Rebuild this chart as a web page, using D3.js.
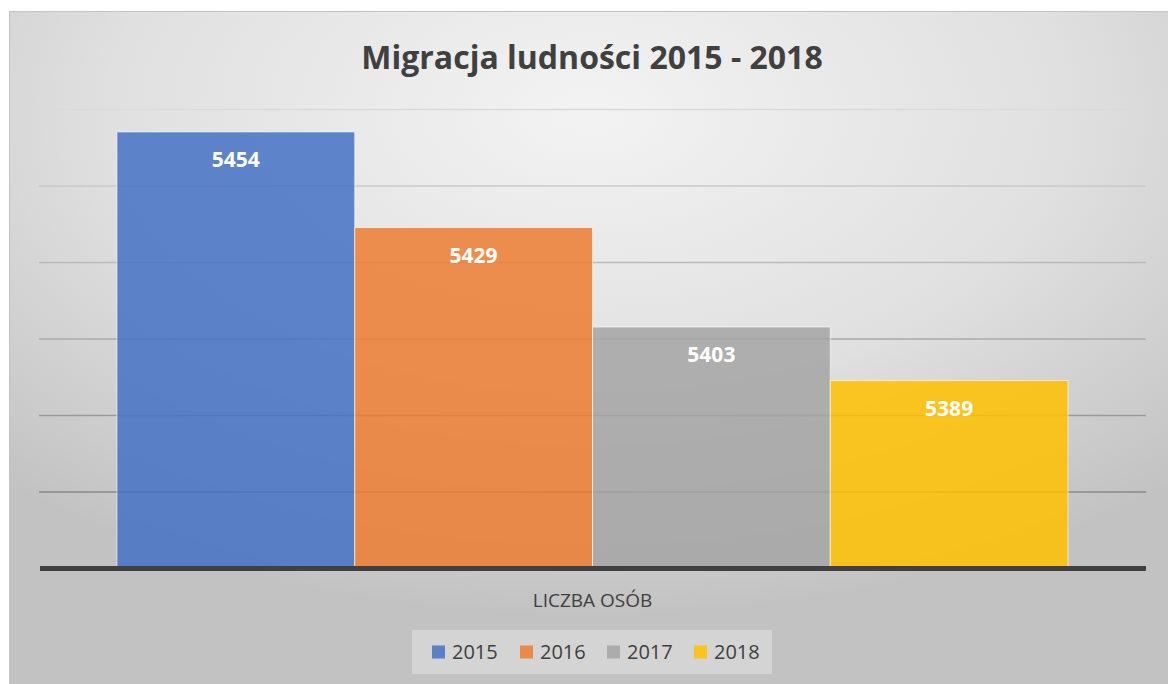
<!DOCTYPE html>
<html>
<head>
<meta charset="utf-8">
<script src="https://cdn.jsdelivr.net/npm/d3@7"></script>
<style>
  body { margin: 0; background: #fff; }
  svg { display: block; font-family: "Open Sans", sans-serif; }
</style>
</head>
<body>
<div id="chart"></div>
<script>
// data
const years = ["2015", "2016", "2017", "2018"];
const values = [5454, 5429, 5403, 5389];
const category = "LICZBA OSÓB";
const yTicks = [5340, 5360, 5380, 5400, 5420, 5440, 5460];
const colors = ["#4472C4", "#ED7D31", "#A5A5A5", "#FFC000"];

const width = 1168, height = 684;
const margin = { top: 109, right: 22, bottom: 116, left: 39 };

const svg = d3.select("#chart").append("svg")
    .attr("width", width).attr("height", height);

// background gradient
const defs = svg.append("defs");
const bg = defs.append("radialGradient")
    .attr("id", "bg")
    .attr("cx", "50%").attr("cy", "15%").attr("r", "75%")
    .attr("gradientUnits", "objectBoundingBox");
bg.append("stop").attr("offset", "0%").attr("stop-color", "#f3f3f3");
bg.append("stop").attr("offset", "55%").attr("stop-color", "#e0e0e0");
bg.append("stop").attr("offset", "100%").attr("stop-color", "#c2c2c2");

svg.append("rect")
    .attr("x", 9.5).attr("y", 11.5)
    .attr("width", width - 9).attr("height", height - 11)
    .attr("fill", "url(#bg)")
    .attr("stroke", "#c2c2c2");

const y = d3.scaleLinear()
    .domain([yTicks[0], yTicks[yTicks.length - 1]])
    .range([height - margin.bottom, margin.top]);

const x0 = d3.scaleBand()
    .domain([category])
    .range([margin.left, width - margin.right])
    .paddingOuter(0.082);

const x1 = d3.scaleBand()
    .domain(years)
    .range([0, x0.bandwidth()]);

const color = d3.scaleOrdinal().domain(years).range(colors);

// gridlines (lighter at top, darker at bottom)
const gridColor = d3.scaleLinear()
    .domain([yTicks[yTicks.length - 1], yTicks[1]])
    .range(["#dadada", "#8a8a8a"]);

svg.append("g")
    .selectAll("line")
    .data(yTicks.slice(1))
    .enter().append("line")
    .attr("x1", margin.left).attr("x2", width - margin.right)
    .attr("y1", d => y(d) + 0.5).attr("y2", d => y(d) + 0.5)
    .attr("stroke", d => gridColor(d))
    .attr("stroke-width", 1.5);

// bars
const group = svg.append("g")
    .attr("transform", `translate(${x0(category)},0)`);

group.selectAll("rect")
    .data(years.map((yr, i) => ({ year: yr, value: values[i] })))
    .enter().append("rect")
    .attr("x", d => x1(d.year))
    .attr("y", d => y(d.value))
    .attr("width", x1.bandwidth())
    .attr("height", d => y(yTicks[0]) - y(d.value))
    .attr("fill", d => color(d.year))
    .attr("fill-opacity", 0.85)
    .attr("stroke", "#ffffff")
    .attr("stroke-opacity", 0.6)
    .attr("stroke-width", 1);

group.selectAll("text.label")
    .data(years.map((yr, i) => ({ year: yr, value: values[i] })))
    .enter().append("text")
    .attr("class", "label")
    .attr("x", d => x1(d.year) + x1.bandwidth() / 2)
    .attr("y", d => y(d.value) + 35)
    .attr("text-anchor", "middle")
    .attr("fill", "#ffffff")
    .attr("font-weight", "bold")
    .attr("font-size", 21)
    .text(d => d.value);

// x axis baseline
svg.append("line")
    .attr("x1", margin.left + 1).attr("x2", width - margin.right)
    .attr("y1", y(yTicks[0]) + 0.5).attr("y2", y(yTicks[0]) + 0.5)
    .attr("stroke", "#404040")
    .attr("stroke-width", 5);

// category label
svg.append("text")
    .attr("x", x0(category) + x0.bandwidth() / 2)
    .attr("y", 607)
    .attr("text-anchor", "middle")
    .attr("fill", "#404040")
    .attr("font-size", 19)
    .text(category);

// title
svg.append("text")
    .attr("x", 592)
    .attr("y", 69)
    .attr("text-anchor", "middle")
    .attr("fill", "#404040")
    .attr("font-weight", "bold")
    .attr("font-size", 32)
    .text("Migracja ludności 2015 - 2018");

// legend
const legend = svg.append("g");
legend.append("rect")
    .attr("x", 412).attr("y", 630)
    .attr("width", 360).attr("height", 44)
    .attr("fill", "#ffffff").attr("fill-opacity", 0.3);

const legendX = [432, 520, 607, 694];
const items = legend.selectAll("g.item")
    .data(years)
    .enter().append("g")
    .attr("class", "item")
    .attr("transform", (d, i) => `translate(${legendX[i]},652)`);

items.append("rect")
    .attr("x", 0).attr("y", -6.5)
    .attr("width", 13).attr("height", 13)
    .attr("fill", d => color(d))
    .attr("fill-opacity", 0.85);

items.append("text")
    .attr("x", 20).attr("y", 7)
    .attr("fill", "#404040")
    .attr("font-size", 20)
    .text(d => d);
</script>
</body>
</html>
